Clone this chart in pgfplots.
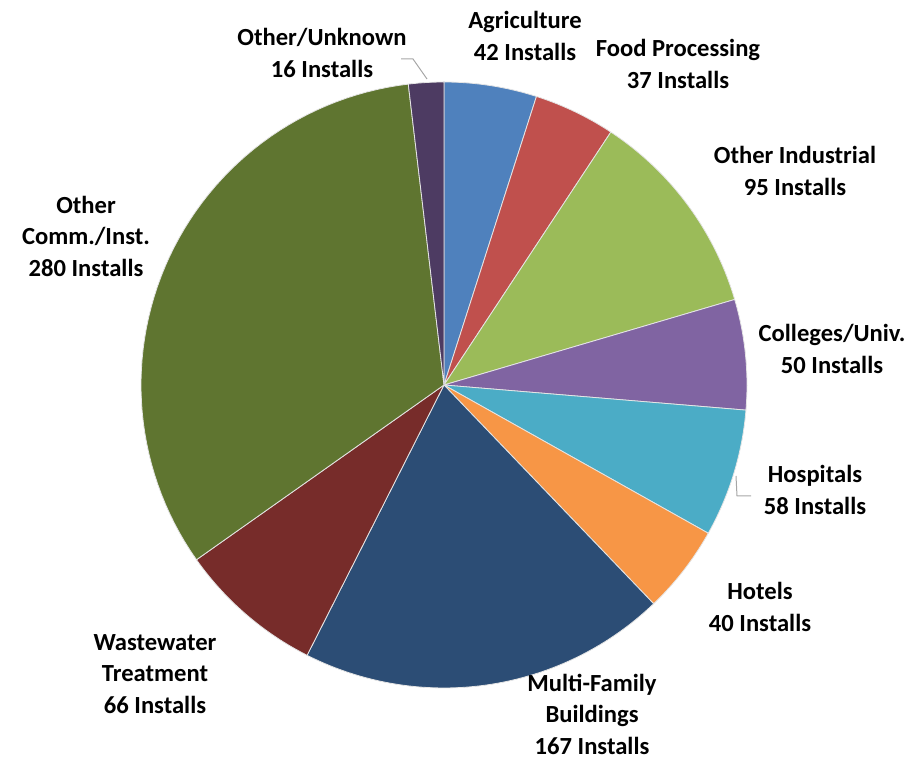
\documentclass[border=0pt]{standalone}
\usepackage{pgfplots}
\pgfplotsset{compat=1.18}
\usepackage{fontspec}
\setmainfont{Carlito}
\definecolor{cAgr}{HTML}{4F81BD}
\definecolor{cFood}{HTML}{C0504D}
\definecolor{cInd}{HTML}{9BBB59}
\definecolor{cCol}{HTML}{8064A2}
\definecolor{cHos}{HTML}{4BACC6}
\definecolor{cHot}{HTML}{F79646}
\definecolor{cMF}{HTML}{2C4D75}
\definecolor{cWW}{HTML}{772C2A}
\definecolor{cOC}{HTML}{5F7530}
\definecolor{cUnk}{HTML}{4D3B62}
\begin{document}
\begin{tikzpicture}
% counts: Agriculture 42, Food Processing 37, Other Industrial 95, Colleges 50,
% Hospitals 58, Hotels 40, Multi-Family 167, Wastewater 66, Other Comm. 280, Other/Unknown 16
\def\tot{851}
\pgfmathsetmacro\bA{90}
\pgfmathsetmacro\bB{90-(42)/\tot*360}
\pgfmathsetmacro\bC{90-(42+37)/\tot*360}
\pgfmathsetmacro\bD{90-(42+37+95)/\tot*360}
\pgfmathsetmacro\bE{90-(42+37+95+50)/\tot*360}
\pgfmathsetmacro\bF{90-(42+37+95+50+58)/\tot*360}
\pgfmathsetmacro\bG{90-(42+37+95+50+58+40)/\tot*360}
\pgfmathsetmacro\bH{90-(42+37+95+50+58+40+167)/\tot*360}
\pgfmathsetmacro\bI{90-(42+37+95+50+58+40+167+66)/\tot*360}
\pgfmathsetmacro\bJ{90-(42+37+95+50+58+40+167+66+280)/\tot*360}
\pgfmathsetmacro\bK{90-(42+37+95+50+58+40+167+66+280+16)/\tot*360}
\begin{axis}[width=458pt, height=379.5pt, scale only axis,
  xmin=0, xmax=916, ymin=0, ymax=759, hide axis, clip=false,
  every axis plot/.append style={draw=white!80!gray, line width=0.4pt, samples=60, variable=\t, line join=round}]
\path (axis cs:0,0) (axis cs:916,759);
\addplot[fill=cAgr, domain=\bB:\bA] ({444+303*cos(\t)},{374+303*sin(\t)}) -- (axis cs:444,374) -- cycle;
\addplot[fill=cFood, domain=\bC:\bB] ({444+303*cos(\t)},{374+303*sin(\t)}) -- (axis cs:444,374) -- cycle;
\addplot[fill=cInd, domain=\bD:\bC] ({444+303*cos(\t)},{374+303*sin(\t)}) -- (axis cs:444,374) -- cycle;
\addplot[fill=cCol, domain=\bE:\bD] ({444+303*cos(\t)},{374+303*sin(\t)}) -- (axis cs:444,374) -- cycle;
\addplot[fill=cHos, domain=\bF:\bE] ({444+303*cos(\t)},{374+303*sin(\t)}) -- (axis cs:444,374) -- cycle;
\addplot[fill=cHot, domain=\bG:\bF] ({444+303*cos(\t)},{374+303*sin(\t)}) -- (axis cs:444,374) -- cycle;
\addplot[fill=cMF, domain=\bH:\bG] ({444+303*cos(\t)},{374+303*sin(\t)}) -- (axis cs:444,374) -- cycle;
\addplot[fill=cWW, domain=\bI:\bH] ({444+303*cos(\t)},{374+303*sin(\t)}) -- (axis cs:444,374) -- cycle;
\addplot[fill=cOC, domain=\bJ:\bI] ({444+303*cos(\t)},{374+303*sin(\t)}) -- (axis cs:444,374) -- cycle;
\addplot[fill=cUnk, domain=\bK:\bJ] ({444+303*cos(\t)},{374+303*sin(\t)}) -- (axis cs:444,374) -- cycle;
% leader lines
\draw[gray!70, line width=0.5pt] (axis cs:401,700) -- (axis cs:413,700) -- (axis cs:427,680);
\draw[gray!70, line width=0.5pt] (axis cs:736,283) -- (axis cs:737,263) -- (axis cs:751,263);
% labels
\tikzset{lbl/.style={align=center, font=\fontsize{12.3}{15.75}\selectfont\bfseries, text=black, inner sep=0pt}}
\node[lbl] at (axis cs:322,706) {Other/Unknown\\16 Installs};
\node[lbl] at (axis cs:525,723) {Agriculture\\42 Installs};
\node[lbl] at (axis cs:678,695) {Food Processing\\37 Installs};
\node[lbl] at (axis cs:795,588) {Other Industrial\\95 Installs};
\node[lbl] at (axis cs:832,410) {Colleges/Univ.\\50 Installs};
\node[lbl] at (axis cs:815,269) {Hospitals\\58 Installs};
\node[lbl] at (axis cs:760,152) {Hotels\\40 Installs};
\node[lbl] at (axis cs:592,45) {Multi-Family\\Buildings\\167 Installs};
\node[lbl] at (axis cs:155,85) {Wastewater\\Treatment\\66 Installs};
\node[lbl] at (axis cs:86,523) {Other\\Comm./Inst.\\280 Installs};
\end{axis}
\end{tikzpicture}
\end{document}
